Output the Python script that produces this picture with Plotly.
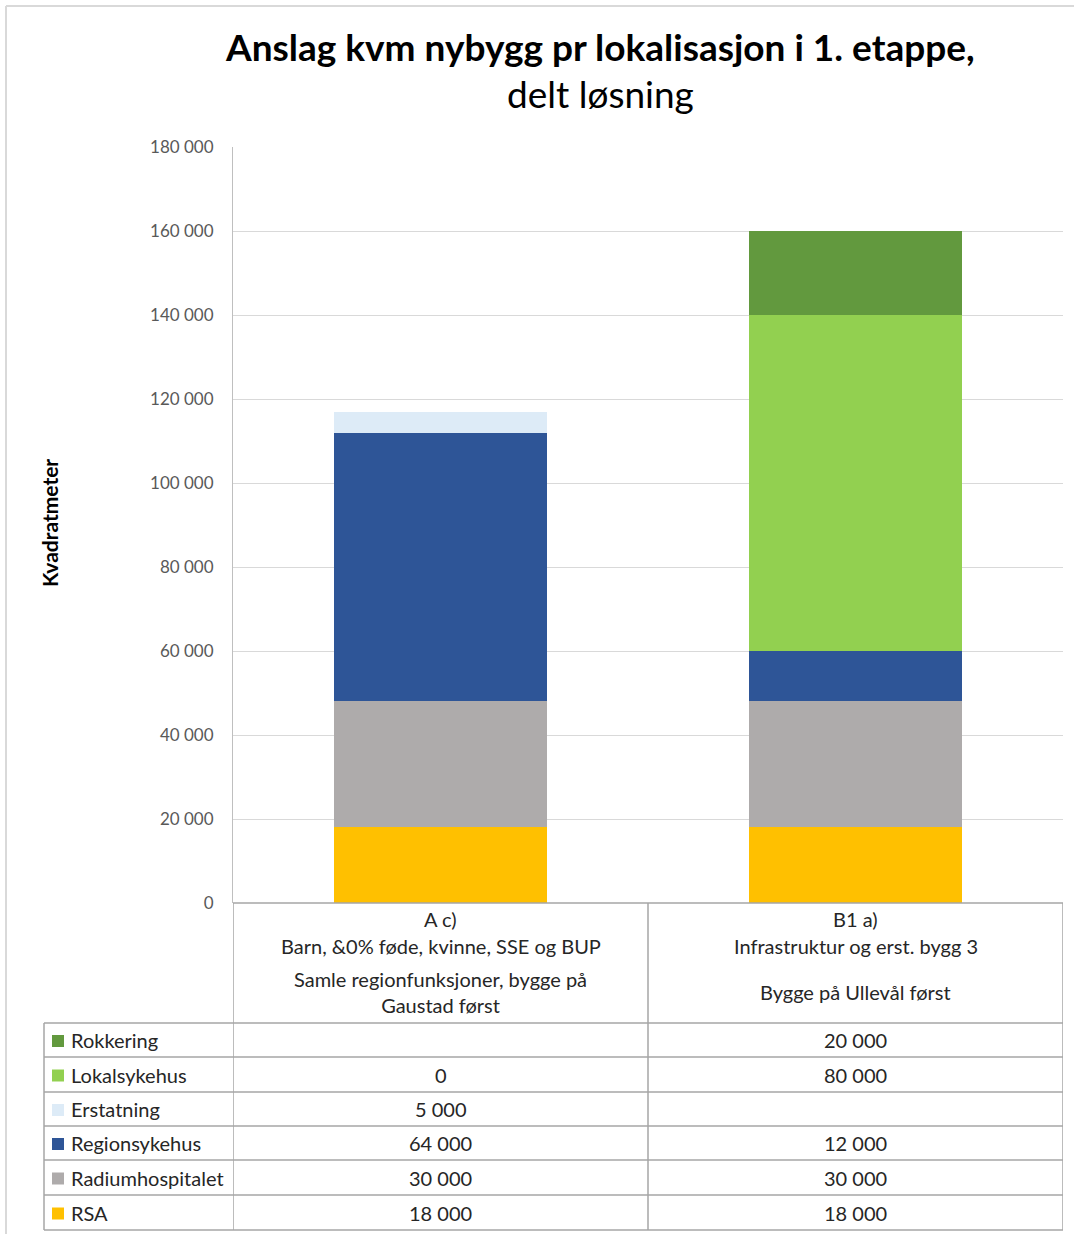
import plotly.graph_objects as go

# ---- data ----
scenario_codes = ["A c)", "B1 a)"]
scenario_desc = ["Barn, &0% føde, kvinne, SSE og BUP", "Infrastruktur og erst. bygg 3"]
scenario_plan = ["Samle regionfunksjoner, bygge på<br>Gaustad først", "Bygge på Ullevål først"]

# stacked bottom -> top
series_names = ["RSA", "Radiumhospitalet", "Regionsykehus", "Erstatning", "Lokalsykehus", "Rokkering"]
rsa = [18000, 18000]
radiumhospitalet = [30000, 30000]
regionsykehus = [64000, 12000]
erstatning = [5000, None]
lokalsykehus = [0, 80000]
rokkering = [None, 20000]
series_values = [rsa, radiumhospitalet, regionsykehus, erstatning, lokalsykehus, rokkering]
series_colors = ["#FFC000", "#AEABAB", "#2E5597", "#DDEBF7", "#92D050", "#62993E"]

y_ticks = [0, 20000, 40000, 60000, 80000, 100000, 120000, 140000, 160000, 180000]

W, H = 1074, 1234
FONT = "Lato"


def py(px):
    """pixel row -> paper y"""
    return 1 - px / H


def pxx(px):
    return px / W


def fmt(v):
    if v is None:
        return ""
    return f"{v:,}".replace(",", " ")


fig = go.Figure()
for name, vals, col in zip(series_names, series_values, series_colors):
    fig.add_trace(go.Bar(
        x=scenario_codes, y=vals, name=name, marker=dict(color=col, line=dict(width=0)),
        width=0.513, showlegend=False, hoverinfo="skip",
    ))

plot_left, plot_right, plot_top, plot_bottom = 233, 1063, 147, 903

fig.update_layout(
    template="none",
    width=W, height=H,
    margin=dict(l=0, r=0, t=0, b=0, pad=0, autoexpand=False),
    paper_bgcolor="white", plot_bgcolor="white",
    barmode="stack",
    separators=", ",
    font=dict(family=FONT, color="#262626"),
    xaxis=dict(
        domain=[pxx(plot_left), pxx(plot_right)],
        range=[-0.5, 1.5], showticklabels=False, showgrid=False, zeroline=False,
        showline=False, ticks="", automargin=False,
    ),
    yaxis=dict(
        domain=[py(plot_bottom), py(plot_top)],
        range=[0, 180000], tickvals=y_ticks, tickformat=",d",
        showgrid=True, gridcolor="#D9D9D9", gridwidth=1,
        zeroline=False, showline=True, linecolor="#BFBFBF", linewidth=1,
        ticks="outside", ticklen=15, tickcolor="rgba(0,0,0,0)", automargin=False,
        tickfont=dict(family=FONT, size=17, color="#595959"),
    ),
)

annotations = []
shapes = []

# title
annotations.append(dict(
    text="<b>Anslag kvm nybygg pr lokalisasjon i 1. etappe,</b>", x=pxx(600), y=py(47),
    xref="paper", yref="paper", showarrow=False, xanchor="center", yanchor="middle",
    font=dict(family=FONT, size=37, color="#000000"),
))
annotations.append(dict(
    text="delt løsning", x=pxx(600), y=py(94),
    xref="paper", yref="paper", showarrow=False, xanchor="center", yanchor="middle",
    font=dict(family=FONT, size=37, color="#000000"),
))

# y axis title
annotations.append(dict(
    text="<b>Kvadratmeter</b>", x=pxx(49), y=py(523),
    xref="paper", yref="paper", showarrow=False, textangle=-90,
    xanchor="center", yanchor="middle",
    font=dict(family=FONT, size=21, color="#000000"),
))

# ---- data table under the plot ----
grid_col = "#A6A6A6"
header_bottom = 1023
row_lines = [1023, 1057, 1092, 1126, 1160, 1195, 1230]
label_left = 44

# horizontal lines
shapes.append(dict(type="line", xref="x", yref="paper", x0=-0.5, x1=1.5,
                   y0=py(plot_bottom), y1=py(plot_bottom), line=dict(color=grid_col, width=1.5)))
for r in row_lines:
    shapes.append(dict(type="line", xref="paper", yref="paper", x0=pxx(label_left), x1=pxx(plot_right),
                       y0=py(r), y1=py(r), line=dict(color=grid_col, width=1.5)))
# vertical lines
for xv in [-0.5, 0.5, 1.5]:
    shapes.append(dict(type="line", xref="x", yref="paper", x0=xv, x1=xv,
                       y0=py(plot_bottom), y1=py(row_lines[-1]), line=dict(color=grid_col, width=1.5)))
shapes.append(dict(type="line", xref="paper", yref="paper", x0=pxx(label_left), x1=pxx(label_left),
                   y0=py(header_bottom), y1=py(row_lines[-1]), line=dict(color=grid_col, width=1.5)))

tfont = dict(family=FONT, size=20, color="#262626")
# header cells
for i, cat in enumerate(scenario_codes):
    annotations.append(dict(text=cat, x=cat, y=py(919), xref="x", yref="paper", showarrow=False,
                            xanchor="center", yanchor="middle", font=tfont))
    annotations.append(dict(text=scenario_desc[i], x=cat, y=py(946), xref="x", yref="paper",
                            showarrow=False, xanchor="center", yanchor="middle", font=tfont))
    annotations.append(dict(text=scenario_plan[i], x=cat, y=py(992.5), xref="x", yref="paper",
                            showarrow=False, xanchor="center", yanchor="middle", font=tfont))

# body rows (top -> bottom = reverse stacking order)
order = list(range(len(series_names)))[::-1]
for k, si in enumerate(order):
    y0, y1 = row_lines[k], row_lines[k + 1]
    yc = (y0 + y1) / 2
    # legend key
    shapes.append(dict(type="rect", xref="paper", yref="paper",
                       x0=pxx(52), x1=pxx(64), y0=py(yc - 6 + 1), y1=py(yc + 6 + 1),
                       fillcolor=series_colors[si], line=dict(width=0)))
    annotations.append(dict(text=series_names[si], x=pxx(69), y=py(yc), xref="paper", yref="paper",
                            showarrow=False, xanchor="left", yanchor="middle", font=tfont))
    for j, cat in enumerate(scenario_codes):
        txt = fmt(series_values[si][j])
        if txt:
            annotations.append(dict(text=txt, x=cat, y=py(yc), xref="x", yref="paper", showarrow=False,
                                    xanchor="center", yanchor="middle", font=tfont))

# chart frame
frame_col = "#D9D9D9"
shapes.append(dict(type="line", xref="paper", yref="paper", x0=pxx(6), x1=1, y0=py(6), y1=py(6),
                   line=dict(color=frame_col, width=2)))
shapes.append(dict(type="line", xref="paper", yref="paper", x0=pxx(6), x1=pxx(6), y0=py(6), y1=0,
                   line=dict(color=frame_col, width=2)))

fig.update_layout(annotations=annotations, shapes=shapes)
fig.write_html("out.html")
